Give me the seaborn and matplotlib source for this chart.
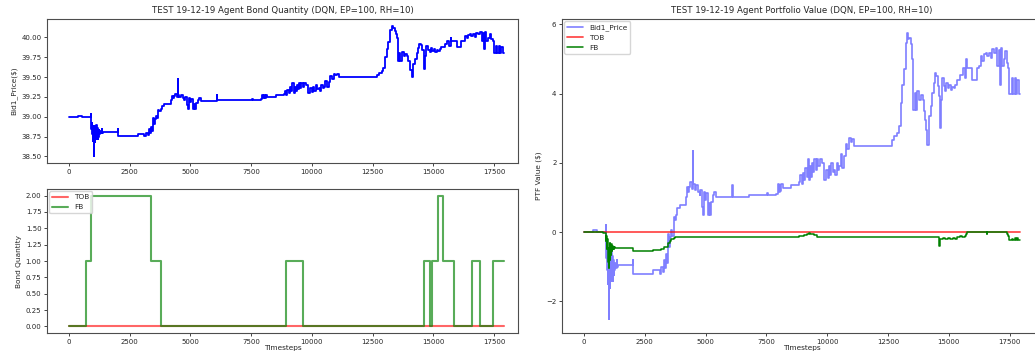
import numpy as np
import pandas as pd
import matplotlib
matplotlib.use("Agg")
import matplotlib.pyplot as plt
import seaborn as sns

# Bid1 price as (timestep, price) keyframes, held until the next one
bid1_price = [
    (0, 39.00), (380, 39.012), (550, 39.00), (900, 39.04), (915, 38.95), (930, 38.85),
    (945, 38.92), (960, 38.78), (975, 38.88), (990, 38.70), (1005, 38.82), (1020, 38.60),
    (1037, 38.50), (1050, 38.75), (1065, 38.88), (1080, 38.68), (1095, 38.85), (1110, 38.72),
    (1125, 38.90), (1140, 38.75), (1160, 38.86), (1180, 38.72), (1200, 38.84), (1220, 38.75),
    (1240, 38.83), (1260, 38.78), (1290, 38.82), (1320, 38.79), (1350, 38.84), (1380, 38.80),
    (1410, 38.81), (2005, 38.84), (2020, 38.76), (2840, 38.78), (3113, 38.76), (3182, 38.80),
    (3250, 38.77), (3291, 38.84), (3346, 38.79), (3387, 38.876), (3428, 38.82), (3455, 38.99),
    (3496, 38.915), (3537, 38.973), (3592, 39.01), (3633, 38.98), (3687, 39.09), (3728, 39.07),
    (3797, 39.10), (3838, 39.137), (3934, 39.157), (4207, 39.205), (4240, 39.26), (4275, 39.234),
    (4310, 39.26), (4380, 39.29), (4440, 39.25), (4480, 39.47), (4500, 39.28), (4549, 39.243),
    (4617, 39.272), (4685, 39.234), (4754, 39.214), (4790, 39.243), (4850, 39.147), (4889, 39.10),
    (4930, 39.234), (4990, 39.186), (5027, 39.224), (5094, 39.10), (5140, 39.166), (5200, 39.10),
    (5230, 39.176), (5300, 39.214), (5367, 39.234), (5435, 39.201), (6080, 39.27), (6110, 39.205),
    (6803, 39.214), (7527, 39.225), (7560, 39.214), (7895, 39.22), (7960, 39.28), (8000, 39.23),
    (8040, 39.27), (8080, 39.24), (8120, 39.28), (8170, 39.253), (8508, 39.27), (8850, 39.29),
    (8900, 39.33), (8950, 39.28), (9000, 39.34), (9050, 39.30), (9100, 39.37), (9150, 39.32),
    (9200, 39.42), (9262, 39.30), (9300, 39.38), (9340, 39.32), (9380, 39.40), (9420, 39.35),
    (9470, 39.42), (9520, 39.36), (9570, 39.42), (9620, 39.38), (9700, 39.42), (9780, 39.40),
    (9860, 39.30), (9930, 39.36), (10012, 39.31), (10060, 39.38), (10110, 39.33), (10160, 39.40),
    (10220, 39.35), (10280, 39.36), (10330, 39.33), (10400, 39.40), (10450, 39.36), (10500, 39.38),
    (10560, 39.45), (10620, 39.37), (10697, 39.44), (10760, 39.51), (10830, 39.48), (10900, 39.543),
    (10960, 39.52), (11030, 39.54), (11106, 39.50), (12676, 39.53), (12750, 39.553), (12881, 39.572),
    (12950, 39.611), (13017, 39.746), (13085, 39.85), (13154, 39.939), (13220, 40.094),
    (13290, 40.148), (13330, 40.113), (13380, 40.123), (13427, 40.084), (13470, 40.036),
    (13495, 39.997), (13540, 39.707), (13590, 39.804), (13650, 39.707), (13700, 39.813),
    (13780, 39.765), (13850, 39.794), (13920, 39.765), (13973, 39.70), (14030, 39.649),
    (14042, 39.591), (14110, 39.504), (14180, 39.669), (14247, 39.727), (14320, 39.804),
    (14383, 39.862), (14430, 39.92), (14480, 39.90), (14540, 39.842), (14600, 39.784),
    (14629, 39.601), (14660, 39.765), (14720, 39.891), (14793, 39.842), (14860, 39.813),
    (14900, 39.86), (14960, 39.83), (15020, 39.85), (15080, 39.82), (15140, 39.84), (15200, 39.83),
    (15260, 39.85), (15339, 39.881), (15470, 39.91), (15570, 39.949), (15650, 39.891),
    (15720, 39.997), (15749, 39.949), (15960, 39.881), (16159, 39.949), (16230, 39.958),
    (16300, 40.016), (16370, 39.987), (16440, 40.026), (16510, 40.036), (16569, 40.016),
    (16640, 40.036), (16710, 40.007), (16780, 40.055), (16850, 40.036), (16920, 40.065),
    (16990, 39.958), (17040, 40.05), (17088, 39.852), (17130, 40.065), (17180, 39.958),
    (17250, 39.997), (17320, 40.045), (17390, 39.978), (17440, 39.949), (17484, 39.80),
    (17590, 39.891), (17640, 39.80), (17700, 39.89), (17750, 39.80), (17810, 39.88),
    (17860, 39.80), (17907, 39.80),
]

# FB portfolio value ($)
fb_value = [
    (0, 0.0), (800, -0.02), (900, -0.05), (915, -0.25), (930, -0.1), (945, -0.5), (960, -0.2),
    (975, -0.7), (990, -0.35), (1005, -0.85), (1020, -0.45), (1037, -1.05), (1050, -0.6),
    (1065, -0.3), (1080, -0.8), (1095, -0.4), (1110, -0.65), (1125, -0.35), (1140, -0.55),
    (1160, -0.4), (1180, -0.5), (1200, -0.42), (1230, -0.48), (1260, -0.44), (1300, -0.47),
    (1400, -0.45), (2020, -0.55), (2840, -0.52), (3180, -0.49), (3290, -0.44), (3390, -0.42),
    (3460, -0.3), (3540, -0.25), (3600, -0.2), (3690, -0.17), (3730, -0.15), (8850, -0.12),
    (8950, -0.1), (9050, -0.08), (9150, -0.06), (9250, -0.02), (9300, -0.06), (9350, -0.04),
    (9450, -0.08), (9600, -0.14), (14560, -0.14), (14600, -0.41), (14650, -0.2), (14750, -0.17),
    (14850, -0.21), (14950, -0.18), (15050, -0.2), (15150, -0.16), (15250, -0.19), (15350, -0.14),
    (15450, -0.12), (15550, -0.14), (15650, -0.1), (15700, -0.06), (15750, -0.01), (16550, -0.06),
    (16580, -0.01), (16700, 0.0), (17320, 0.0), (17380, -0.05), (17440, -0.12), (17480, -0.22),
    (17600, -0.2), (17650, -0.23), (17700, -0.17), (17750, -0.22), (17800, -0.18),
    (17850, -0.23), (17930, -0.23),
]

# TOB holds nothing: flat at zero
tob_t = [0, 17930]
tob_v = [0.0, 0.0]

# bond quantity held by FB
fb_qty_t = [0, 717, 910, 3390, 3789, 8928, 9657, 14629, 14851, 14946, 15194, 15400,
            15868, 16612, 16917, 17467, 17930]
fb_qty_v = [0, 1, 2, 1, 0, 1, 0, 1, 0, 1, 2, 1, 0, 1, 0, 1, 1]

price_t, price_v = map(list, zip(*bid1_price))
fb_ptf_t, fb_ptf_v = map(list, zip(*fb_value))
# value of 5 bonds at the bid price, relative to the start
bid1_ptf_v = list((np.array(price_v) - price_v[0]) * 5)

sns.set_style("ticks")
plt.rcParams["font.family"] = ["DejaVu Sans"]

fig = plt.figure(figsize=(10.35, 3.56), dpi=100)
ax1 = fig.add_axes([0.0454, 0.5421, 0.4551, 0.4045])
ax2 = fig.add_axes([0.0454, 0.0646, 0.4551, 0.4045])
ax3 = fig.add_axes([0.543, 0.0646, 0.4638, 0.882])

kw = dict(drawstyle="steps-post", estimator=None, sort=False)

sns.lineplot(x=price_t, y=price_v, ax=ax1, color="blue", linewidth=1.3, **kw)
ax1.set_title("TEST 19-12-19 Agent Bond Quantity (DQN, EP=100, RH=10)", fontsize=6.2, pad=4)
ax1.set_ylabel("Bid1_Price($)", fontsize=5.3, labelpad=3)
ax1.set_xlim(-900, 18490)

sns.lineplot(x=tob_t, y=tob_v, ax=ax2, color="red", alpha=0.6, linewidth=1.5, label="TOB", **kw)
sns.lineplot(x=fb_qty_t, y=fb_qty_v, ax=ax2, color="green", alpha=0.65, linewidth=1.5, label="FB", **kw)
ax2.set_xlabel("Timesteps", fontsize=5.3, labelpad=0.5)
ax2.set_ylabel("Bond Quantity", fontsize=5.3, labelpad=3)
ax2.set_xlim(-900, 18490)
ax2.legend(loc="upper left", fontsize=5.3, borderaxespad=0.3, handlelength=2.2)

sns.lineplot(x=price_t, y=bid1_ptf_v, ax=ax3, color="blue", alpha=0.5, linewidth=1.2, label="Bid1_Price", **kw)
sns.lineplot(x=tob_t, y=tob_v, ax=ax3, color="red", alpha=0.7, linewidth=1.3, label="TOB", **kw)
sns.lineplot(x=fb_ptf_t, y=fb_ptf_v, ax=ax3, color="green", linewidth=1.1, label="FB", **kw)
ax3.set_title("TEST 19-12-19 Agent Portfolio Value (DQN, EP=100, RH=10)", fontsize=6.2, pad=4)
ax3.set_xlabel("Timesteps", fontsize=5.3, labelpad=0.5)
ax3.set_ylabel("PTF Value ($)", fontsize=5.3, labelpad=3)
ax3.legend(loc="upper left", fontsize=5.3, borderaxespad=0.3, handlelength=2.2)

for ax in (ax1, ax2, ax3):
    ax.tick_params(labelsize=5, length=2.5, width=0.6, pad=1.5)
    for s in ax.spines.values():
        s.set_linewidth(0.8)
        s.set_color("0.3")

fig.savefig("out.png", dpi=100)
